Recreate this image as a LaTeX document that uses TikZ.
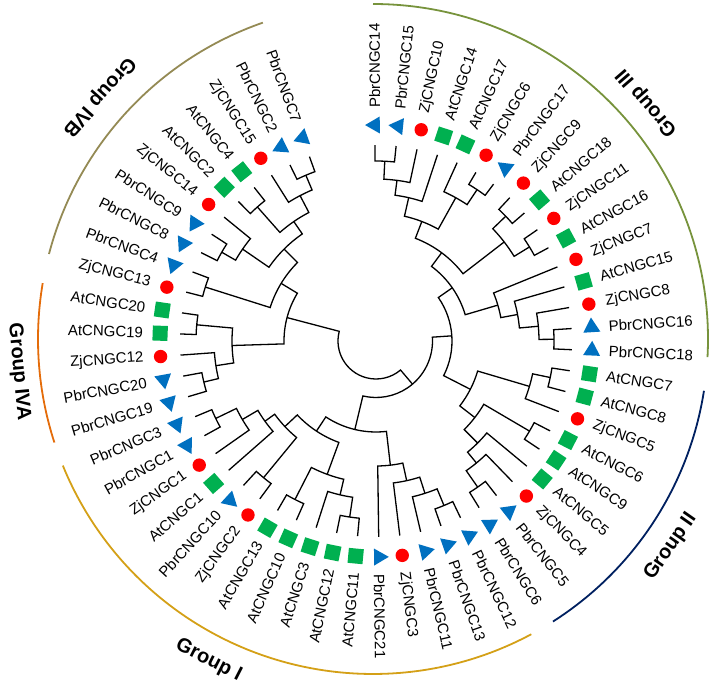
\documentclass[tikz,border=0pt]{standalone}
\usepackage{tikz}
\usepackage{fontspec}
\setmainfont{Liberation Sans}
\definecolor{pbrblue}{RGB}{0,112,192}
\definecolor{zjred}{RGB}{255,0,0}
\definecolor{atgreen}{RGB}{0,176,80}
\definecolor{grpthree}{RGB}{119,147,60}
\definecolor{grptwo}{RGB}{0,32,96}
\definecolor{grpone}{RGB}{212,160,23}
\definecolor{grpfoura}{RGB}{228,108,10}
\definecolor{grpfourb}{RGB}{148,138,84}
\newcommand{\clade}[5]{\draw[branch] (#2:#4) -- (#2:#1) arc[start angle=#2, end angle=#3, radius=#1] -- (#3:#5);}
\newcommand{\symt}[1]{\fill[pbrblue, shift={(#1:216)}, rotate=#1] (0,9.8) -- (-8.5,-4.9) -- (8.5,-4.9) -- cycle;}
\newcommand{\symc}[1]{\fill[zjred] (#1:216) circle[radius=6.7];}
\newcommand{\syms}[1]{\fill[atgreen, shift={(#1:216)}, rotate=#1] (-7.5,-7.5) rectangle (7.5,7.5);}

\begin{document}
\begin{tikzpicture}[x=1pt, y=1pt,
  branch/.style={line width=1.3pt, black},
  leaf/.style={inner sep=0pt, font=\fontsize{15}{18}\selectfont},
  grp/.style={line width=1.8pt},
  grplab/.style={font=\fontsize{20}{24}\selectfont\bfseries}
]
  \useasboundingbox (0,0) rectangle (709,686);

  \begin{scope}[shift={(376,345)}]
    % group III
    \clade{180}{90.30}{84.11}{196}{196}
    \clade{162}{87.21}{77.92}{180}{196}
    \clade{147}{82.56}{71.73}{162}{196}
    \clade{182}{59.35}{53.16}{196}{196}
    \clade{164}{65.54}{56.26}{196}{182}
    \clade{128}{77.15}{60.90}{147}{164}
    \clade{180}{46.97}{40.78}{196}{196}
    \clade{180}{34.59}{28.40}{196}{196}
    \clade{162}{43.88}{31.50}{180}{180}
    \clade{110}{69.02}{37.69}{128}{162}
    \clade{178}{3.64}{-2.55}{196}{196}
    \clade{163}{9.83}{0.55}{196}{178}
    \clade{144}{16.02}{5.19}{196}{163}
    \clade{127}{22.21}{10.61}{196}{144}
    \clade{93}{53.36}{16.41}{110}{127}
    % group II
    \clade{178}{-8.74}{-14.93}{196}{196}
    \clade{160}{-11.84}{-21.12}{178}{196}
    \clade{178}{-27.31}{-33.50}{196}{196}
    \clade{178}{-52.07}{-58.26}{196}{196}
    \clade{158}{-45.88}{-55.17}{196}{178}
    \clade{144}{-39.69}{-50.53}{196}{158}
    \clade{125}{-30.41}{-45.11}{178}{144}
    \clade{106}{-16.48}{-37.76}{160}{125}
    \clade{76}{34.89}{-27.12}{93}{106}
    % group I
    \clade{178}{-64.45}{-70.64}{196}{196}
    \clade{160}{-67.55}{-76.83}{178}{196}
    \clade{143}{-72.19}{-83.02}{160}{196}
    \clade{125}{-77.61}{-89.21}{143}{196}
    \clade{178}{-95.40}{-101.59}{196}{196}
    \clade{158}{-98.50}{-107.78}{178}{196}
    \clade{178}{-113.97}{-120.16}{196}{196}
    \clade{142}{-103.14}{-117.07}{158}{178}
    \clade{177}{-126.35}{-132.54}{196}{196}
    \clade{178}{-151.11}{-157.30}{196}{196}
    \clade{155}{-144.92}{-154.21}{196}{178}
    \clade{137}{-138.73}{-149.57}{196}{155}
    \clade{125}{-129.45}{-144.15}{177}{137}
    \clade{108}{-110.11}{-136.80}{142}{125}
    \clade{91}{-83.41}{-123.46}{125}{108}
    \clade{56.5}{3.89}{-103.44}{76}{91}
    % group IV
    \clade{177}{-163.49}{-169.68}{196}{196}
    \clade{162}{-166.59}{-175.87}{177}{196}
    \clade{180}{-182.06}{-188.25}{196}{196}
    \clade{144}{-171.23}{-185.16}{162}{180}
    \clade{179}{-194.44}{-200.63}{196}{196}
    \clade{178}{-206.82}{-213.01}{196}{196}
    \clade{162}{-209.92}{-219.20}{178}{196}
    \clade{179}{-225.39}{-231.58}{196}{196}
    \clade{180}{-243.96}{-250.15}{196}{196}
    \clade{164}{-237.77}{-247.06}{196}{180}
    \clade{145}{-228.49}{-242.42}{179}{164}
    \clade{130}{-214.56}{-235.46}{162}{145}
    \clade{111}{-197.54}{-225.01}{179}{130}
    \clade{92}{-178.20}{-211.28}{144}{111}
    % root
    \clade{38}{-194.74}{-49.78}{92}{56.5}

    \foreach \nm/\tp [count=\i] in {PbrCNGC14/t, PbrCNGC15/t, ZjCNGC10/c, AtCNGC14/s,
      AtCNGC17/s, ZjCNGC6/c, PbrCNGC17/t, ZjCNGC9/c, AtCNGC18/s, ZjCNGC11/c, AtCNGC16/s,
      ZjCNGC7/c, AtCNGC15/s, ZjCNGC8/c, PbrCNGC16/t, PbrCNGC18/t, AtCNGC7/s, AtCNGC8/s,
      ZjCNGC5/c, AtCNGC6/s, AtCNGC9/s, AtCNGC5/s, ZjCNGC4/c, PbrCNGC5/t, PbrCNGC6/t,
      PbrCNGC12/t, PbrCNGC13/t, PbrCNGC11/t, ZjCNGC3/c, PbrCNGC21/t, AtCNGC11/s,
      AtCNGC12/s, AtCNGC3/s, AtCNGC10/s, AtCNGC13/s, ZjCNGC2/c, PbrCNGC10/t, AtCNGC1/s,
      ZjCNGC1/c, PbrCNGC1/t, PbrCNGC3/t, PbrCNGC19/t, PbrCNGC20/t, ZjCNGC12/c,
      AtCNGC19/s, AtCNGC20/s, ZjCNGC13/c, PbrCNGC4/t, PbrCNGC8/t, PbrCNGC9/t,
      ZjCNGC14/c, AtCNGC2/s, AtCNGC4/s, ZjCNGC15/c, PbrCNGC2/t, PbrCNGC7/t}{
      \pgfmathsetmacro\ang{90.3-6.19*(\i-1)}
      \csname sym\tp\endcsname{\ang}
      \pgfmathtruncatemacro\rt{and(\ang>-90,\ang<91)}
      \ifnum\rt=1
        \node[leaf, rotate=\ang, anchor=west] (l\i) at (\ang:233) {\nm};
      \else
        \node[leaf, rotate=\ang+180, anchor=east] (l\i) at (\ang:233) {\nm};
      \fi
    }
  \end{scope}

  \begin{scope}[shift={(373,347)}]
    \draw[grp, grpthree] (90:335) arc[start angle=90, end angle=-3.1, radius=335];
    \draw[grp, grptwo] (-8.9:335) arc[start angle=-8.9, end angle=-57.5, radius=335];
    \draw[grp, grpone] (-61.8:335) arc[start angle=-61.8, end angle=-157.8, radius=335];
    \draw[grp, grpfoura] (-162:335) arc[start angle=-162, end angle=-189.6, radius=335];
    \draw[grp, grpfourb] (165.3:335) arc[start angle=165.3, end angle=109.2, radius=335];
    \node[grplab, rotate=130.8] (gIII) at (40.8:362) {Group III};
    \node[grplab, rotate=55.1] (gII) at (-34.9:363) {Group II};
    \node[grplab, rotate=-27.1] (gI) at (-117.1:361) {Group I};
    \node[grplab, rotate=275.3] (gIVA) at (185.3:356) {Group IVA};
    \node[grplab, rotate=228.5] (gIVB) at (138.5:366) {Group IVB};
  \end{scope}
\end{tikzpicture}
\end{document}
